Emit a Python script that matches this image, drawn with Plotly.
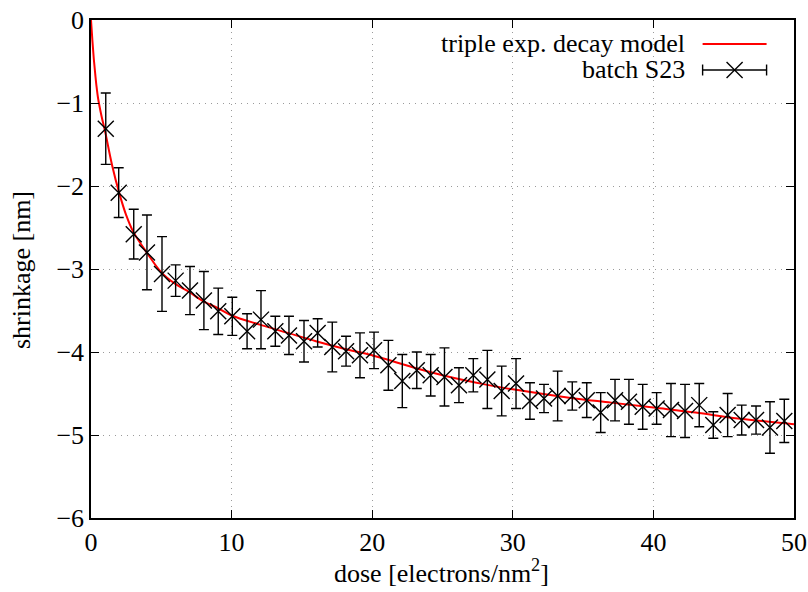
import plotly.graph_objects as go

# measured points, batch S23
dose = [1.05, 1.97, 3.04, 3.98, 5.05, 6.02, 7.04, 8.03, 9.05, 10.05,
        11.10, 12.09, 13.11, 14.08, 15.15, 16.12, 17.16, 18.14, 19.13, 20.13,
        21.15, 22.14, 23.17, 24.16, 25.14, 26.17, 27.19, 28.19, 29.21, 30.23,
        31.22, 32.22, 33.19, 34.23, 35.26, 36.25, 37.27, 38.26, 39.24, 40.23,
        41.25, 42.25, 43.26, 44.26, 45.28, 46.28, 47.30, 48.29, 49.31]
shrink = [-1.31, -2.08, -2.58, -2.80, -3.06, -3.14, -3.26, -3.38, -3.51, -3.57,
          -3.75, -3.61, -3.75, -3.80, -3.87, -3.77, -3.94, -3.99, -4.04, -3.98,
          -4.16, -4.35, -4.22, -4.28, -4.30, -4.40, -4.28, -4.33, -4.47, -4.38,
          -4.59, -4.56, -4.53, -4.53, -4.58, -4.73, -4.58, -4.60, -4.66, -4.68,
          -4.70, -4.71, -4.64, -4.88, -4.76, -4.82, -4.82, -4.91, -4.83]
err = [0.43, 0.30, 0.30, 0.45, 0.45, 0.19, 0.29, 0.35, 0.28, 0.23,
       0.21, 0.35, 0.18, 0.23, 0.25, 0.17, 0.30, 0.18, 0.27, 0.22,
       0.30, 0.32, 0.22, 0.25, 0.35, 0.21, 0.20, 0.35, 0.30, 0.30,
       0.22, 0.17, 0.30, 0.17, 0.21, 0.24, 0.25, 0.27, 0.27, 0.19,
       0.32, 0.32, 0.26, 0.16, 0.26, 0.18, 0.17, 0.31, 0.26]

# triple exp. decay model
model_x = [0, 0.1, 0.2, 0.3, 0.4, 0.5, 0.75, 1.0, 1.5, 2.0, 2.5, 3, 4, 5, 6, 7, 8, 9, 10,
           12, 14, 16, 18, 20, 23, 25, 28, 30, 34, 37, 40, 43, 46, 50]
model_y = [0, -0.25, -0.47, -0.65, -0.81, -0.94, -1.16, -1.34, -1.75, -2.08, -2.35, -2.55,
           -2.81, -3.04, -3.18, -3.28, -3.39, -3.47, -3.56, -3.67, -3.77, -3.87, -3.96,
           -4.04, -4.19, -4.28, -4.39, -4.45, -4.55, -4.61, -4.67, -4.73, -4.80, -4.87]

xticks = [0, 10, 20, 30, 40, 50]
yticks = [0, -1, -2, -3, -4, -5, -6]

font = "Liberation Serif"
fsize = 26

fig = go.Figure()
fig.add_trace(go.Scatter(x=model_x, y=model_y, mode="lines", line_shape="spline",
                         line=dict(color="#ff0000", width=2), name="triple exp. decay model",
                         showlegend=False))
fig.add_trace(go.Scatter(x=dose, y=shrink, mode="markers", name="batch S23",
                         marker=dict(symbol="x-thin-open", size=16, color="black",
                                     line=dict(color="black", width=1.4)),
                         error_y=dict(type="data", array=err, color="black", thickness=1.4, width=5),
                         showlegend=False, cliponaxis=False))

axis_common = dict(showline=True, linecolor="black", linewidth=1.5, mirror="ticks",
                   ticks="inside", ticklen=8, tickwidth=1.2, tickcolor="black",
                   showgrid=True, gridcolor="#9a9a9a", gridwidth=1, griddash="1px,5px",
                   zeroline=False, automargin=False, ticklabeloverflow="allow",
                   tickfont=dict(family=font, size=fsize, color="black"))

fig.update_xaxes(range=[0, 50], tickvals=xticks, ticktext=[str(v) for v in xticks], **axis_common)
fig.update_yaxes(range=[-6, 0], tickvals=yticks,
                 ticktext=["0" if v == 0 else "\u2212" + str(-v) for v in yticks], **axis_common)

# axis titles as annotations so they sit where gnuplot put them
title_font = dict(family=font, size=fsize, color="black")
fig.add_annotation(xref="paper", yref="paper", x=0.498, y=-0.108, text="dose [electrons/nm<sup>2</sup>]",
                   showarrow=False, xanchor="center", yanchor="middle", font=title_font)
fig.add_annotation(xref="paper", yref="paper", x=-0.098, y=0.498, text="shrinkage [nm]", textangle=-90,
                   showarrow=False, xanchor="center", yanchor="middle", font=title_font)

# gnuplot style key: text on the left, sample on the right
fig.add_annotation(xref="paper", yref="paper", x=0.848, y=0.952, text="triple exp. decay model",
                   showarrow=False, xanchor="right", yanchor="middle", font=title_font)
fig.add_annotation(xref="paper", yref="paper", x=0.848, y=0.8996, text="batch S23",
                   showarrow=False, xanchor="right", yanchor="middle", font=title_font)
fig.add_shape(type="line", xref="paper", yref="paper", x0=0.870, x1=0.961, y0=0.952, y1=0.952,
              line=dict(color="#ff0000", width=2))
ky = 0.8996
kx0, kx1, kc = 0.870, 0.961, 0.9155
cap = 0.011
fig.add_shape(type="line", xref="paper", yref="paper", x0=kx0, x1=kx1, y0=ky, y1=ky,
              line=dict(color="black", width=1.4))
for xx in (kx0, kx1):
    fig.add_shape(type="line", xref="paper", yref="paper", x0=xx, x1=xx, y0=ky - cap, y1=ky + cap,
                  line=dict(color="black", width=1.4))
mx, my = 0.0114, 0.016
fig.add_shape(type="line", xref="paper", yref="paper", x0=kc - mx, x1=kc + mx, y0=ky - my, y1=ky + my,
              line=dict(color="black", width=1.4))
fig.add_shape(type="line", xref="paper", yref="paper", x0=kc - mx, x1=kc + mx, y0=ky + my, y1=ky - my,
              line=dict(color="black", width=1.4))

fig.update_layout(width=808, height=592, margin=dict(l=91, r=14, t=20, b=74, autoexpand=False),
                  plot_bgcolor="white", paper_bgcolor="white", showlegend=False,
                  font=dict(family=font, size=fsize, color="black"))

# drop the default 8px body margin so the figure fills the window
fig.write_html("out.html", config={"displayModeBar": False},
               post_script="document.body.style.margin='0';")
